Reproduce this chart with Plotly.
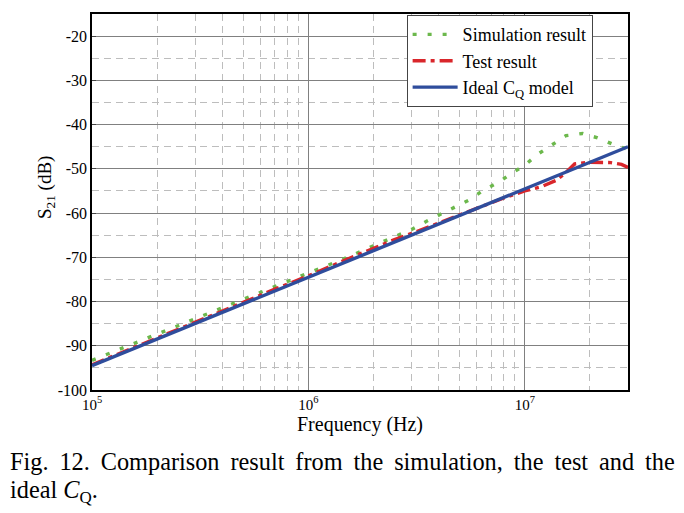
import plotly.graph_objects as go

# Simulation result
sim_f = [1e5, 1.5e5, 2e5, 3e5, 5e5, 7e5, 1e6, 1.5e6, 2e6, 2.6e6, 3e6, 3.5e6, 4.1e6,
         4.8e6, 5.6e6, 6.4e6, 7.6e6, 8.7e6, 1e7, 1.14e7, 1.32e7, 1.55e7, 1.85e7,
         2.17e7, 2.57e7, 3e7]
sim_db = [-93.3, -89.9, -87.4, -83.9, -79.5, -76.6, -73.7, -70.1, -67.4, -65.0, -63.7,
          -61.9, -60.2, -58.5, -56.9, -54.9, -53.0, -51.0, -49.2, -46.8, -44.8, -42.5,
          -42.0, -43.0, -44.5, -45.6]

# Test result
test_f = [1e5, 1.5e5, 2e5, 3e5, 5e5, 7e5, 1e6, 1.5e6, 2e6, 2.5e6, 3e6, 4e6, 5e6,
          6e6, 7e6, 8e6, 1e7, 1.2e7, 1.4e7, 1.55e7, 1.7e7, 2e7, 2.5e7, 2.8e7, 3e7]
test_db = [-94.3, -90.8, -88.3, -84.7, -80.2, -77.2, -74.2, -70.5, -67.9, -66.0, -64.6,
           -62.2, -60.4, -58.9, -57.6, -56.6, -55.0, -54.0, -52.6, -50.8, -48.9, -48.5,
           -48.6, -49.0, -49.7]

# Ideal CQ model
ideal_f = [1e5, 1e6, 1e7, 3e7]
ideal_db = [-94.5, -74.5, -54.5, -45.0]

x_tickvals = [1e5, 1e6, 1e7]
x_ticktext = ["10<sup>5</sup>", "10<sup>6</sup>", "10<sup>7</sup>"]
x_minor = [m * 10 ** e for e in (5, 6, 7) for m in range(2, 10) if m * 10 ** e <= 3e7]
y_tickvals = [-100, -90, -80, -70, -60, -50, -40, -30, -20]
y_ticktext = ["-100", "-90", "-80", "-70", "-60", "-50", "-40", "-30", "-20"]

font_family = "Liberation Serif"
TS = "\u2009"  # thin space to widen caption spacing (justified text)
caption1 = ("Fig. 12. Comparison result from the simulation, the test and the").replace(" ", " " + TS)
caption2 = "ideal <i>C</i><sub>Q</sub>."

fig = go.Figure()
fig.add_trace(go.Scatter(x=sim_f, y=sim_db, mode="lines", name="Simulation result",
                         line=dict(color="#6cb84c", width=3.4, dash="4px,11px")))
fig.add_trace(go.Scatter(x=test_f, y=test_db, mode="lines", name="Test result",
                         line=dict(color="#d9262b", width=3.4, dash="13px,5px,4px,5px")))
fig.add_trace(go.Scatter(x=ideal_f, y=ideal_db, mode="lines", name="Ideal C<sub>Q</sub> model",
                         line=dict(color="#2f4d9c", width=3.4)))

fig.update_layout(
    width=676, height=505,
    margin=dict(l=84, r=56, t=4, b=123),
    paper_bgcolor="white", plot_bgcolor="white",
    font=dict(family=font_family, color="black", size=16),
    showlegend=True,
    legend=dict(x=0.934, y=0.997, xanchor="right", yanchor="top",
                bgcolor="white", bordercolor="#444444", borderwidth=1,
                font=dict(size=18, family=font_family), tracegroupgap=0,
                itemwidth=45),
    annotations=[
        dict(text=caption1,
             xref="paper", yref="paper", x=-84 / 536, y=-(462 - 390) / 378,
             xanchor="left", yanchor="middle", showarrow=False,
             font=dict(size=24.3, family=font_family)),
        dict(text=caption2,
             xref="paper", yref="paper", x=-84 / 536, y=-(492 - 390) / 378,
             xanchor="left", yanchor="middle", showarrow=False,
             font=dict(size=24.3, family=font_family)),
        dict(text="S<sub>21</sub> (dB)", textangle=-90,
             xref="paper", yref="paper", x=(46 - 92) / 536, y=(390 - 187) / 378,
             xanchor="center", yanchor="middle", showarrow=False,
             font=dict(size=19, family=font_family)),
    ],
)

fig.update_xaxes(
    type="log", range=[5, 7.4771],
    tickvals=x_tickvals, ticktext=x_ticktext,
    showgrid=True, gridcolor="#808080", gridwidth=1.2,
    minor=dict(tickvals=x_minor, showgrid=True, gridcolor="#bdbdbd", griddash="7px,5px",
               gridwidth=1, ticks=""),
    showline=True, linecolor="black", linewidth=1.5, mirror=True,
    ticks="", tickfont=dict(size=15),
    title=dict(text="Frequency (Hz)", font=dict(size=20), standoff=2),
    zeroline=False,
)
fig.update_yaxes(
    range=[-100, -15], tickvals=y_tickvals, ticktext=y_ticktext,
    showgrid=True, gridcolor="#808080", gridwidth=1.2,
    minor=dict(dtick=5, tick0=0, showgrid=True, gridcolor="#bdbdbd", griddash="7px,5px",
               gridwidth=1, ticks=""),
    showline=True, linecolor="black", linewidth=1.5, mirror=True,
    ticks="inside", ticklen=4, tickfont=dict(size=16),
    zeroline=False,
)

fig.write_html("out.html")
